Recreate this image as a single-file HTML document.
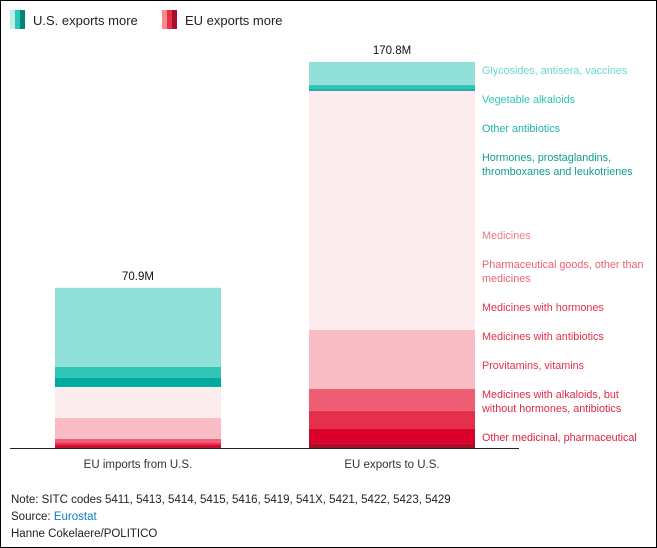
<!DOCTYPE html>
<html><head><meta charset="utf-8"><style>
body{margin:0;background:#fff;}
#wrap{position:relative;width:655px;height:546px;border:1px solid #000;overflow:hidden;font-family:"Liberation Sans",sans-serif;}
svg text{font-family:"Liberation Sans",sans-serif;}
.foot{position:absolute;left:10px;font-size:11.5px;color:#222;}
</style></head><body>
<div id="wrap">
<svg id="chart" width="655" height="546">
 <g>
  <g>
   <rect x="9" y="9" width="5" height="19" fill="#bdeeea"/><rect x="14" y="9" width="5" height="19" fill="#2ec4b6"/><rect x="19" y="9" width="5" height="19" fill="#00857a"/>
   <text x="32" y="24" font-size="13" fill="#222">U.S. exports more</text>
  </g>
  <g>
   <rect x="161" y="9" width="5" height="19" fill="#f98a86"/><rect x="166" y="9" width="5" height="19" fill="#e5304c"/><rect x="171" y="9" width="5" height="19" fill="#a80d2a"/>
   <text x="184" y="24" font-size="13" fill="#222">EU exports more</text>
  </g>
 </g>
 <g id="bars"></g>
 <line x1="9" x2="518" y1="447.5" y2="447.5" stroke="#222" stroke-width="1"/>
</svg>
<div class="foot" style="top:493px">Note: SITC codes 5411, 5413, 5414, 5415, 5416, 5419, 541X, 5421, 5422, 5423, 5429</div>
<div class="foot" style="top:510px">Source: <span style="color:#0a7fc2">Eurostat</span></div>
<div class="foot" style="top:527px">Hanne Cokelaere/POLITICO</div>
</div>
<script>
const categories = ["EU imports from U.S.", "EU exports to U.S."];
const totals = ["70.9M", "170.8M"];
const segmentNames = ["Glycosides, antisera, vaccines","Vegetable alkaloids","Other antibiotics","Hormones, prostaglandins, thromboxanes and leukotrienes","Medicines","Pharmaceutical goods, other than medicines","Medicines with hormones","Medicines with antibiotics","Provitamins, vitamins","Medicines with alkaloids, but without hormones, antibiotics","Other medicinal, pharmaceutical"];
const importsValues = [35.0, 4.9, 4.0, 0.0, 13.7, 9.3, 1.8, 0.9, 0.9, 0.4, 0.0];
const exportsValues = [10.2, 1.8, 0.5, 0.3, 105.8, 26.1, 9.7, 8.0, 6.6, 1.8, 0.0];
const colors = ["#91e1da","#2ec4b6","#00aaa0","#00857a","#fdecee","#f9bcc4","#ee5e72","#e5304c","#d9002a","#a80d2a","#7a0a20"];
const labelColors = ["#6dd8ce","#2ec4b6","#1db3a7","#0f9d92","#f07a8a","#ec6175","#e5304c","#e5304c","#e5304c","#e02a46","#d9253f"];
const labelLines = [["Glycosides, antisera, vaccines"],["Vegetable alkaloids"],["Other antibiotics"],["Hormones, prostaglandins,","thromboxanes and leukotrienes"],["Medicines"],["Pharmaceutical goods, other than","medicines"],["Medicines with hormones"],["Medicines with antibiotics"],["Provitamins, vitamins"],["Medicines with alkaloids, but","without hormones, antibiotics"],["Other medicinal, pharmaceutical"]];
const labelY = [73,102,131,160,238,267,310,339,368,397,440];

const baseY = 447, pxPerM = 2.26;
const barX = [54, 308], barW = 166;
function y(v){ return baseY - v*pxPerM; }
const NS = "http://www.w3.org/2000/svg";
const g = document.getElementById("bars");
[importsValues, exportsValues].forEach((vals, bi) => {
  let cum = 0;
  const bar = document.createElementNS(NS, "g");
  
  
  g.appendChild(bar);
  for (let i = vals.length - 1; i >= 0; i--) {
    const v = vals[i];
    if (v <= 0) continue;
    const r = document.createElementNS(NS, "rect");
    r.setAttribute("x", barX[bi]); r.setAttribute("width", barW);
    r.setAttribute("y", y(cum + v)); r.setAttribute("height", v * pxPerM);
    r.setAttribute("fill", colors[i]);
    
    
    bar.appendChild(r);
    cum += v;
  }
  const t = document.createElementNS(NS, "text");
  t.setAttribute("x", barX[bi] + barW / 2); t.setAttribute("y", y(cum) - 8);
  t.setAttribute("text-anchor", "middle"); t.setAttribute("font-size", "11.5"); t.setAttribute("fill", "#111");
  t.textContent = totals[bi];
  
  
  g.appendChild(t);
  const c = document.createElementNS(NS, "text");
  c.setAttribute("x", barX[bi] + barW / 2); c.setAttribute("y", 467);
  c.setAttribute("text-anchor", "middle"); c.setAttribute("font-size", "11.5"); c.setAttribute("fill", "#333");
  c.textContent = categories[bi];
  
  
  g.appendChild(c);
});
labelLines.forEach((lines, i) => {
  const t = document.createElementNS(NS, "text");
  t.setAttribute("x", 481); t.setAttribute("y", labelY[i]);
  t.setAttribute("font-size", "10.8"); t.setAttribute("fill", labelColors[i]);
  
  
  lines.forEach((ln, j) => {
    const s = document.createElementNS(NS, "tspan");
    s.setAttribute("x", 481); s.setAttribute("dy", j === 0 ? 0 : 14);
    s.textContent = ln;
    t.appendChild(s);
  });
  g.appendChild(t);
});
</script>
</body></html>
